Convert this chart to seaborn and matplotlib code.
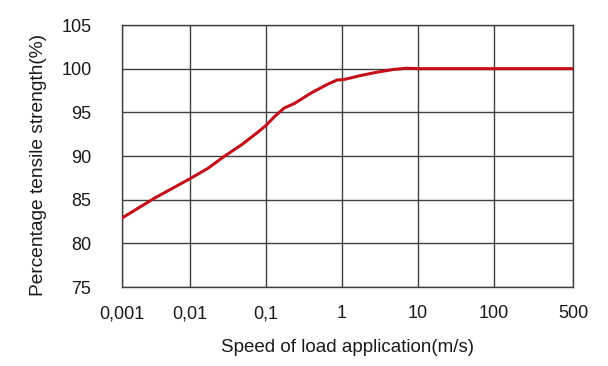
import numpy as np
import pandas as pd
import matplotlib
matplotlib.use("Agg")
import matplotlib.pyplot as plt
import seaborn as sns

# curve
speed = [0.001, 0.00305, 0.01, 0.0173, 0.0276, 0.048, 0.080, 0.1, 0.129,
         0.174, 0.235, 0.39, 0.64, 0.86, 1.05, 1.73, 2.9, 4.7, 7.1, 10, 500]
strength = [82.9, 85.2, 87.4, 88.6, 89.9, 91.3, 92.8, 93.5, 94.5,
            95.5, 96.0, 97.2, 98.2, 98.7, 98.75, 99.2, 99.6, 99.9, 100.05, 100.0, 100.0]

tick_vals = [0.001, 0.01, 0.1, 1, 10, 100, 500]
tick_labels = ['0,001', '0,01', '0,1', '1', '10', '100', '500']
y_ticks = [75, 80, 85, 90, 95, 100, 105]

# the original axis is not a true log axis: decades are evenly spaced,
# the first one is a bit narrower and 500 sits one full step after 100
scale_logs = np.log10(tick_vals)
scale_pos = np.array([0, 68, 144, 220, 296, 372, 451], dtype=float)


def fwd(x):
    x = np.clip(np.asarray(x, dtype=float), 1e-6, None)
    return np.interp(np.log10(x), scale_logs, scale_pos)


def inv(p):
    return 10 ** np.interp(p, scale_pos, scale_logs)


df = pd.DataFrame({'speed': speed, 'strength': strength})

sns.set_style('white')
plt.rcParams['font.family'] = ['Liberation Sans', 'DejaVu Sans']

fig = plt.figure(figsize=(6.08, 3.66), dpi=100)
ax = fig.add_axes([122 / 608, 1 - 287 / 366, 451 / 608, 262 / 366])

ax.set_xscale('function', functions=(fwd, inv))
sns.lineplot(data=df, x='speed', y='strength', ax=ax, color='#c4101a',
             linewidth=2.2, zorder=3)

ax.set_xlim(0.001, 500)
ax.set_ylim(75, 105)
ax.set_xticks(tick_vals)
ax.set_xticklabels(tick_labels)
ax.xaxis.set_minor_locator(matplotlib.ticker.NullLocator())
ax.set_yticks(y_ticks)
ax.set_yticklabels([str(v) for v in y_ticks])

ax.grid(True, color='#404040', linewidth=1.0)
for s in ax.spines.values():
    s.set_color('#404040')
    s.set_linewidth(1.0)

ax.tick_params(axis='both', direction='out', length=5, width=1.0,
               color='#404040', labelsize=13, labelcolor='#1a1a1a')
ax.tick_params(axis='y', pad=17)
ax.tick_params(axis='x', pad=8)

ax.set_xlabel('Speed of load application(m/s)', fontsize=13.5, color='#1a1a1a',
              labelpad=12)
ax.set_ylabel('Percentage tensile strength(%)', fontsize=13.8, color='#1a1a1a')
ax.yaxis.set_label_coords(-0.166, 0.466)

fig.savefig('out.png', dpi=100)
